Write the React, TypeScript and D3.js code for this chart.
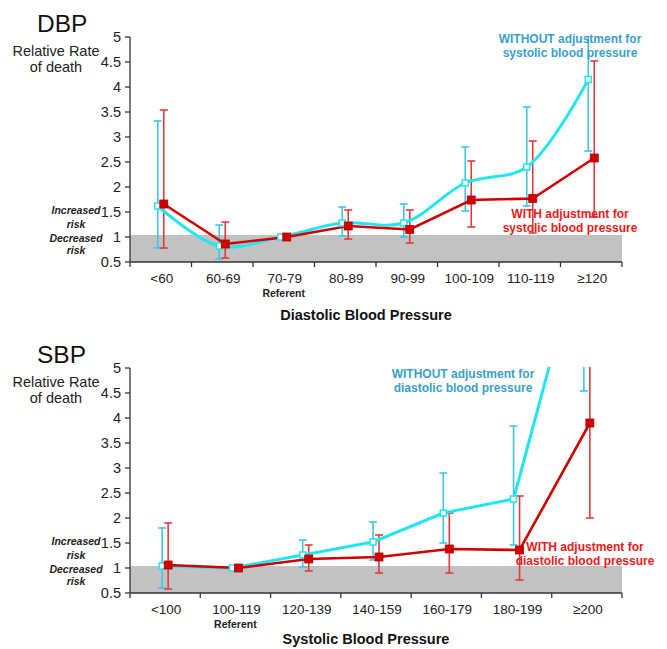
import * as d3 from "d3";

// DBP panel values
const dbpCategories = ["<60", "60-69", "70-79", "80-89", "90-99", "100-109", "110-119", "≥120"];
const dbpWithout = [1.62, 0.82, 1.0, 1.28, 1.28, 2.08, 2.4, 4.15];
const dbpWithoutLo = [0.78, 0.56, null, 1.02, 1.0, 1.52, 1.62, 2.72];
const dbpWithoutHi = [3.32, 1.24, null, 1.6, 1.66, 2.8, 3.6, 5.1];
const dbpWith = [1.66, 0.86, 1.0, 1.22, 1.15, 1.74, 1.77, 2.58];
const dbpWithLo = [0.78, 0.58, null, 0.96, 0.88, 1.2, 1.08, 1.4];
const dbpWithHi = [3.54, 1.3, null, 1.54, 1.54, 2.52, 2.92, 4.52];

// SBP panel values
const sbpCategories = ["<100", "100-119", "120-139", "140-159", "160-179", "180-199", "≥200"];
const sbpWithout = [1.04, 1.0, 1.26, 1.52, 2.1, 2.38, 7.6];
const sbpWithoutLo = [0.6, null, 1.02, 1.16, 1.5, 1.46, 4.54];
const sbpWithoutHi = [1.8, null, 1.56, 1.92, 2.9, 3.84, 12];
const sbpWith = [1.06, 1.0, 1.18, 1.22, 1.38, 1.36, 3.9];
const sbpWithLo = [0.58, null, 0.94, 0.9, 0.9, 0.76, 2.0];
const sbpWithHi = [1.9, null, 1.46, 1.66, 2.1, 2.44, 6.5];

const yTicks = [0.5, 1, 1.5, 2, 2.5, 3, 3.5, 4, 4.5, 5];

const FONT = "Arial, 'Liberation Sans', sans-serif";
const CYAN = "#22e6ef";
const CYAN_BAR = "#3ec4ee";
const RED = "#d10000";
const RED_BAR = "#e23a3a";

type PanelProps = {
  id: string;
  top: number; // pixel y of value 5
  bottom: number; // pixel y of value 0.5
  title: string;
  xTitle: string;
  xTitleGap: number;
  categories: string[];
  without: number[];
  withoutLo: (number | null)[];
  withoutHi: (number | null)[];
  withAdj: number[];
  withLo: (number | null)[];
  withHi: (number | null)[];
  referent: number;
  smooth: boolean;
  legendWithout: [string, string, number, number];
  legendWith: [string, string, number, number];
};

function Panel(p: PanelProps) {
  const left = 130;
  const right = 622;
  const x = d3.scaleBand().domain(p.categories).range([left, right]);
  const y = d3.scaleLinear().domain([0.5, 5]).range([p.bottom, p.top]);
  const cx = (i: number) => (x(p.categories[i]) ?? 0) + x.bandwidth() / 2;
  const off = 3;

  const curve = p.smooth ? d3.curveCatmullRom.alpha(0.5) : d3.curveLinear;
  const cyanLine = d3
    .line<number>()
    .x((_, i) => cx(i) - off)
    .y((d) => y(d))
    .curve(curve)(p.without);
  const redLine = d3
    .line<number>()
    .x((_, i) => cx(i) + off)
    .y((d) => y(d))(p.withAdj);

  const bars = (lo: (number | null)[], hi: (number | null)[], dx: number, color: string) =>
    lo.map((l, i) => {
      const h = hi[i];
      if (l == null || h == null) return null;
      const xx = cx(i) + dx;
      return (
        <g key={i} stroke={color} strokeWidth={1.6}>
          <line x1={xx} x2={xx} y1={y(l)} y2={y(h)} />
          <line x1={xx - 4} x2={xx + 4} y1={y(l)} y2={y(l)} />
          <line x1={xx - 4} x2={xx + 4} y1={y(h)} y2={y(h)} />
        </g>
      );
    });

  const lx = 76;
  const y15 = y(1.5);

  return (
    <g fontFamily={FONT}>
      <defs>
        <clipPath id={p.id + "-clip"}>
          <rect x={0} y={p.top - 1} width={667} height={p.bottom - p.top + 10} />
        </clipPath>
      </defs>
      <text x={37} y={p.top - 5} fontSize={24.5} fill="#111">{p.title}</text>
      <text x={56} y={p.top + 19} fontSize={14.5} textAnchor="middle" fill="#222">Relative Rate</text>
      <text x={56} y={p.top + 35} fontSize={14.5} textAnchor="middle" fill="#222">of death</text>

      <rect x={left} y={y(1.04)} width={right - left} height={y(0.5) - y(1.04)} fill="#c2c2c2" />

      {/* y axis */}
      <line x1={left} x2={left} y1={p.top} y2={p.bottom} stroke="#333" strokeWidth={1.3} />
      {yTicks.map((t) => (
        <g key={t}>
          <line x1={left - 5} x2={left} y1={y(t)} y2={y(t)} stroke="#333" strokeWidth={1.3} />
          <text x={121} y={y(t) + 5} fontSize={14.5} textAnchor="end" fill="#222">{String(t)}</text>
        </g>
      ))}
      {/* x axis */}
      <line x1={left} x2={right} y1={p.bottom} y2={p.bottom} stroke="#333" strokeWidth={1.3} />
      {p.categories.map((c) => (
        <line key={c} x1={x(c)} x2={x(c)} y1={p.bottom} y2={p.bottom + 5} stroke="#333" strokeWidth={1.3} />
      ))}
      <line x1={right} x2={right} y1={p.bottom} y2={p.bottom + 5} stroke="#333" strokeWidth={1.3} />
      {p.categories.map((c, i) => (
        <text key={c} x={cx(i) + 1} y={p.bottom + 21} fontSize={13.5} textAnchor="middle" fill="#222">{c}</text>
      ))}
      <text x={cx(p.referent)} y={p.bottom + 35} fontSize={10.5} fontWeight="bold" textAnchor="middle" fill="#222">Referent</text>
      <text x={366} y={p.bottom + p.xTitleGap} fontSize={14.5} fontWeight="bold" textAnchor="middle" fill="#111">{p.xTitle}</text>

      {/* risk labels */}
      <g fontSize={10.5} fontWeight="bold" fontStyle="italic" textAnchor="middle" fill="#222">
        <text x={lx} y={y15 + 2}>Increased</text>
        <text x={lx} y={y15 + 16}>risk</text>
        <text x={lx} y={y15 + 30}>Decreased</text>
        <text x={lx} y={y15 + 42}>risk</text>
      </g>

      <g clipPath={`url(#${p.id}-clip)`}>
        {bars(p.withoutLo, p.withoutHi, -off, CYAN_BAR)}
        {bars(p.withLo, p.withHi, off, RED_BAR)}
        <path d={cyanLine ?? ""} fill="none" stroke={CYAN} strokeWidth={3} />
        <path d={redLine ?? ""} fill="none" stroke={RED} strokeWidth={2.6} />
        {p.without.map((v, i) => (
          <rect key={i} x={cx(i) - off - 3} y={y(v) - 3} width={6} height={6} fill="#fff" stroke={CYAN} strokeWidth={1.5} />
        ))}
        {p.withAdj.map((v, i) => (
          <rect key={i} x={cx(i) + off - 4} y={y(v) - 4} width={8} height={8} fill={RED} stroke="#b00000" strokeWidth={0.8} />
        ))}
      </g>

      <g fontSize={12} fontWeight="bold" textAnchor="middle">
        <text x={p.legendWithout[2]} y={p.legendWithout[3]} fill="#3a9fcb">{p.legendWithout[0]}</text>
        <text x={p.legendWithout[2]} y={p.legendWithout[3] + 14} fill="#3a9fcb">{p.legendWithout[1]}</text>
        <text x={p.legendWith[2]} y={p.legendWith[3]} fill="#f01818">{p.legendWith[0]}</text>
        <text x={p.legendWith[2]} y={p.legendWith[3] + 14} fill="#f01818">{p.legendWith[1]}</text>
      </g>
    </g>
  );
}

export default function App() {
  return (
    <div style={{ position: "absolute", left: 0, top: 0 }}>
      <svg width={667} height={649} style={{ display: "block", background: "#fff" }}>
        <Panel
          id="dbp"
          top={37}
          bottom={262}
          title="DBP"
          xTitle="Diastolic Blood Pressure"
          xTitleGap={58}
          categories={dbpCategories}
          without={dbpWithout}
          withoutLo={dbpWithoutLo}
          withoutHi={dbpWithoutHi}
          withAdj={dbpWith}
          withLo={dbpWithLo}
          withHi={dbpWithHi}
          referent={2}
          smooth={true}
          legendWithout={["WITHOUT adjustment for", "systolic blood pressure", 570, 43]}
          legendWith={["WITH adjustment for", "systolic blood pressure", 570, 218]}
        />
        <Panel
          id="sbp"
          top={368}
          bottom={593}
          title="SBP"
          xTitle="Systolic Blood Pressure"
          xTitleGap={51}
          categories={sbpCategories}
          without={sbpWithout}
          withoutLo={sbpWithoutLo}
          withoutHi={sbpWithoutHi}
          withAdj={sbpWith}
          withLo={sbpWithLo}
          withHi={sbpWithHi}
          referent={1}
          smooth={false}
          legendWithout={["WITHOUT adjustment for", "diastolic blood pressure", 463, 378]}
          legendWith={["WITH adjustment for", "diastolic blood pressure", 585, 551]}
        />
      </svg>
    </div>
  );
}
